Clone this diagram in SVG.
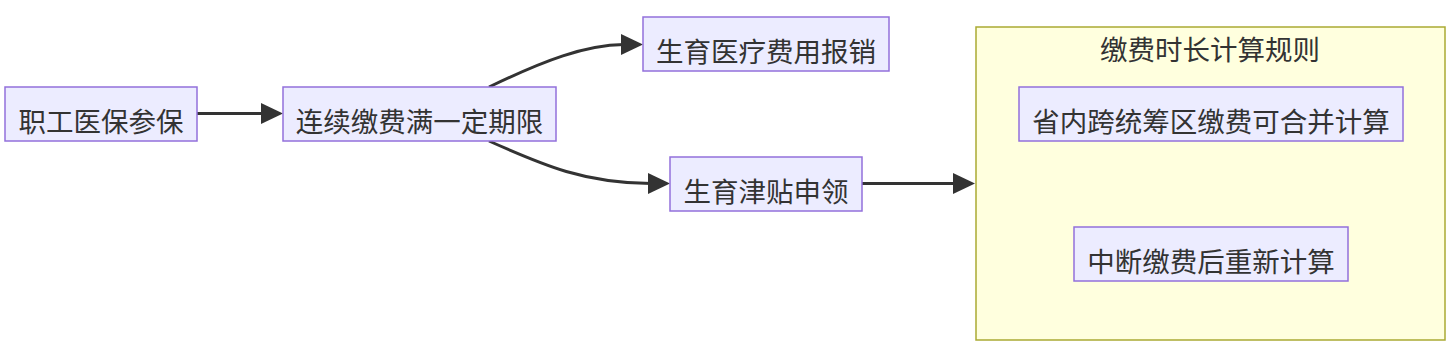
<svg xmlns="http://www.w3.org/2000/svg" width="1454" height="356" viewBox="0 0 1454 356">
<style>
.node rect{fill:#ECECFF;stroke:#9370DB;stroke-width:1.5}
.cluster rect{fill:#ffffde;stroke:#aaaa33;stroke-width:1.5}
text{font-family:"Noto Sans CJK SC","Noto Sans",sans-serif;font-size:27.5px;fill:#333;text-anchor:middle}
.edge{fill:none;stroke:#333;stroke-width:3}
.head{fill:#333}
</style>
<rect width="1454" height="356" fill="#fff"/>
<g id="cluster-rules" class="cluster">
<rect x="976" y="27" width="469" height="313"/>
<text x="1210" y="60">缴费时长计算规则</text>
</g>
<g id="connectors">
<path class="edge" d="M197,113.5 L263,113.5"/>
<polygon class="head" points="261,103 283,113.5 261,124"/>
<path class="edge" d="M489,87 C545,60 585,45 624,44.5"/>
<polygon class="head" points="621,34 643,44.5 621,55"/>
<path class="edge" d="M489,141 C545,166 585,183 651,183.5"/>
<polygon class="head" points="648,173 670,183.5 648,194"/>
<path class="edge" d="M862,183.5 L956,183.5"/>
<polygon class="head" points="953,173 975,183.5 953,194"/>
</g>
<g id="n1" class="node">
<rect x="5" y="87" width="192" height="54"/>
<text x="101" y="132">职工医保参保</text>
</g>
<g id="n2" class="node">
<rect x="283" y="87" width="273" height="54"/>
<text x="419.5" y="132">连续缴费满一定期限</text>
</g>
<g id="n3" class="node">
<rect x="643" y="17" width="246" height="54"/>
<text x="766" y="62">生育医疗费用报销</text>
</g>
<g id="n4" class="node">
<rect x="670" y="157" width="192" height="54"/>
<text x="766" y="202">生育津贴申领</text>
</g>
<g id="n5" class="node">
<rect x="1019" y="87" width="384" height="54"/>
<text x="1211" y="132">省内跨统筹区缴费可合并计算</text>
</g>
<g id="n6" class="node">
<rect x="1074" y="227" width="274" height="54"/>
<text x="1211" y="272">中断缴费后重新计算</text>
</g>
</svg>
